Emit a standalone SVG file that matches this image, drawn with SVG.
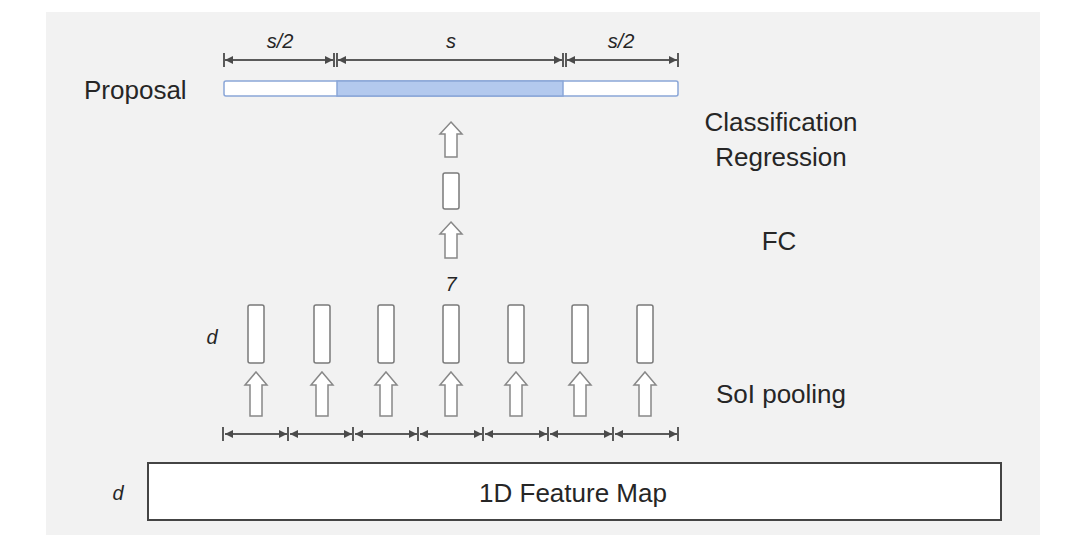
<svg xmlns="http://www.w3.org/2000/svg" width="1080" height="546" viewBox="0 0 1080 546">
<defs>
<marker id="ah" viewBox="0 0 10 10" refX="10" refY="5" markerWidth="10" markerHeight="8" markerUnits="userSpaceOnUse" orient="auto-start-reverse">
<path d="M0,0 L10,5 L0,10 z" fill="#4a4a4a"/>
</marker>
<style>
.lbl{font-family:"Liberation Sans",Arial,sans-serif;font-size:26px;fill:#262626;}
.it{font-family:"Liberation Sans",Arial,sans-serif;font-size:20px;font-style:italic;fill:#262626;}
.dim{stroke:#5a5a5a;stroke-width:1.8;fill:none;marker-start:url(#ah);marker-end:url(#ah);}
.tick{stroke:#4a4a4a;stroke-width:1.8;}
.cell{fill:#fff;stroke:#7a7a7a;stroke-width:1.5;}
.uparr{fill:#fff;stroke:#888;stroke-width:1.5;stroke-linejoin:miter;}
</style>
</defs>
<rect x="0" y="0" width="1080" height="546" fill="#ffffff"/>
<rect x="46" y="12" width="994" height="523" fill="#f2f2f2"/>

<g id="proposal">
<text class="lbl" x="84" y="99">Proposal</text>
<rect x="224" y="81" width="454" height="15" rx="2" fill="#ffffff" stroke="#8aa6d8" stroke-width="1.5"/>
<rect x="337" y="81" width="226" height="15" fill="#b3c9ee" stroke="#8aa6d8" stroke-width="1.5"/>
</g>

<g id="top-dims">
<text class="it" x="280" y="48" text-anchor="middle">s/2</text>
<text class="it" x="451" y="48" text-anchor="middle">s</text>
<text class="it" x="621" y="48" text-anchor="middle">s/2</text>
</g>

<g id="cls-labels">
<text class="lbl" x="781" y="131" text-anchor="middle">Classification</text>
<text class="lbl" x="781" y="166" text-anchor="middle">Regression</text>
</g>
<g id="fc-label"><text class="lbl" x="779" y="250" text-anchor="middle">FC</text></g>
<g id="soi-label"><text class="lbl" x="781" y="403" text-anchor="middle">SoI pooling</text></g>

<g id="fc">
<rect class="cell" x="443" y="173" width="16" height="36" rx="2"/>
</g>
<g id="seven"><text class="it" x="451" y="291" text-anchor="middle">7</text></g>

<g id="pooled-cells">
<text class="it" x="212" y="344" text-anchor="middle">d</text>
<rect class="cell" x="248" y="305" width="16" height="58" rx="2"/>
<rect class="cell" x="314" y="305" width="16" height="58" rx="2"/>
<rect class="cell" x="378" y="305" width="16" height="58" rx="2"/>
<rect class="cell" x="443" y="305" width="16" height="58" rx="2"/>
<rect class="cell" x="508" y="305" width="16" height="58" rx="2"/>
<rect class="cell" x="572" y="305" width="16" height="58" rx="2"/>
<rect class="cell" x="637" y="305" width="16" height="58" rx="2"/>
</g>

<g id="feature-map">
<text class="it" x="118" y="500" text-anchor="middle">d</text>
<rect x="148" y="463" width="853" height="57" fill="#ffffff" stroke="#444" stroke-width="2"/>
<text class="lbl" x="573" y="502" text-anchor="middle">1D Feature Map</text>
</g>

<g id="connectors">
<line class="tick" x1="224" y1="53" x2="224" y2="67"/>
<line class="tick" x1="334" y1="53" x2="334" y2="67"/>
<line class="tick" x1="337" y1="53" x2="337" y2="67"/>
<line class="tick" x1="563" y1="53" x2="563" y2="67"/>
<line class="tick" x1="566" y1="53" x2="566" y2="67"/>
<line class="tick" x1="678" y1="53" x2="678" y2="67"/>
<line class="dim" x1="225" y1="60" x2="333" y2="60"/>
<line class="dim" x1="338" y1="60" x2="562" y2="60"/>
<line class="dim" x1="567" y1="60" x2="677" y2="60"/>

<path class="uparr" d="M451,122 L462,134 L457,134 L457,157 L445,157 L445,134 L440,134 Z"/>
<path class="uparr" d="M451,222 L462,234 L457,234 L457,258 L445,258 L445,234 L440,234 Z"/>
<path class="uparr" d="M256,372 L267,385 L262,385 L262,416 L250,416 L250,385 L245,385 Z"/>
<path class="uparr" d="M322,372 L333,385 L328,385 L328,416 L316,416 L316,385 L311,385 Z"/>
<path class="uparr" d="M386,372 L397,385 L392,385 L392,416 L380,416 L380,385 L375,385 Z"/>
<path class="uparr" d="M451,372 L462,385 L457,385 L457,416 L445,416 L445,385 L440,385 Z"/>
<path class="uparr" d="M516,372 L527,385 L522,385 L522,416 L510,416 L510,385 L505,385 Z"/>
<path class="uparr" d="M580,372 L591,385 L586,385 L586,416 L574,416 L574,385 L569,385 Z"/>
<path class="uparr" d="M645,372 L656,385 L651,385 L651,416 L639,416 L639,385 L634,385 Z"/>

<line class="tick" x1="223" y1="427" x2="223" y2="441"/>
<line class="tick" x1="288" y1="427" x2="288" y2="441"/>
<line class="tick" x1="353" y1="427" x2="353" y2="441"/>
<line class="tick" x1="418" y1="427" x2="418" y2="441"/>
<line class="tick" x1="483" y1="427" x2="483" y2="441"/>
<line class="tick" x1="548" y1="427" x2="548" y2="441"/>
<line class="tick" x1="613" y1="427" x2="613" y2="441"/>
<line class="tick" x1="678" y1="427" x2="678" y2="441"/>
<line class="dim" x1="225" y1="434" x2="287" y2="434"/>
<line class="dim" x1="290" y1="434" x2="352" y2="434"/>
<line class="dim" x1="355" y1="434" x2="417" y2="434"/>
<line class="dim" x1="420" y1="434" x2="482" y2="434"/>
<line class="dim" x1="485" y1="434" x2="547" y2="434"/>
<line class="dim" x1="550" y1="434" x2="612" y2="434"/>
<line class="dim" x1="615" y1="434" x2="677" y2="434"/>
</g>
</svg>
